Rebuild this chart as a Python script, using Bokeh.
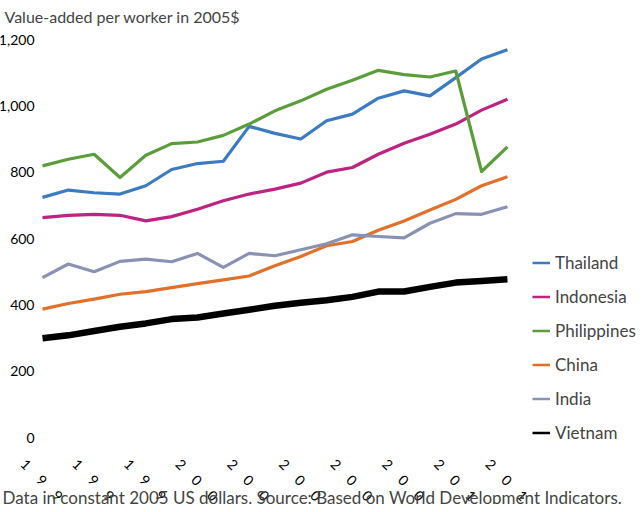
from bokeh.plotting import figure
from bokeh.models import (Range1d, FixedTicker, LinearAxis, NumeralTickFormatter,
                          Legend, LegendItem, Label, ColumnDataSource)
from bokeh.embed import file_html
from bokeh.resources import INLINE

years = list(range(1995, 2014))
thailand = [724, 746, 738, 734, 759, 808, 826, 833, 938, 917, 900, 955, 975, 1023, 1045, 1030, 1085, 1141, 1169]
indonesia = [663, 670, 673, 670, 653, 666, 688, 714, 734, 749, 767, 800, 814, 854, 887, 914, 945, 987, 1020]
philippines = [819, 839, 854, 784, 851, 886, 891, 911, 945, 985, 1015, 1050, 1077, 1107, 1094, 1087, 1105, 802, 876]
china = [387, 404, 417, 432, 440, 452, 464, 475, 487, 518, 546, 578, 591, 625, 653, 686, 718, 759, 786]
india = [482, 523, 500, 531, 538, 530, 555, 513, 555, 548, 566, 584, 611, 606, 602, 646, 675, 673, 696]
vietnam = [299, 308, 321, 334, 344, 357, 362, 374, 385, 397, 406, 414, 424, 440, 440, 454, 467, 472, 477]

series_names = ["Thailand", "Indonesia", "Philippines", "China", "India", "Vietnam"]
series_values = [thailand, indonesia, philippines, china, india, vietnam]
series_colors = ["#3b7bc4", "#bd2380", "#5b9d3b", "#e0702a", "#8a92b4", "#000000"]
series_widths = [3.2, 3.2, 3.2, 3.2, 3.2, 6.5]

y_ticks = [0, 200, 400, 600, 800, 1000, 1200]
x_tick_years = years[::2]
x_tick_labels = {y: "\u2002\u2002".join(str(y)) for y in x_tick_years}

title_text = "Value-added per worker in 2005$"
note_text = "Data in constant 2005 US dollars. Source: Based on World Development Indicators."

FONT = "Lato"
W, H = 636, 504
PX_PER_YEAR = 25.83
x0 = 1995 - 42 / PX_PER_YEAR
x1 = x0 + W / PX_PER_YEAR
py = 398 / 1200.0
y0 = -(H - 437) / py
y1 = 1200 + 39 / py

p = figure(width=W, height=H, x_range=Range1d(x0, x1), y_range=Range1d(y0, y1),
           output_backend="svg", toolbar_location=None,
           x_axis_location=None, y_axis_location=None, min_border=0,
           outline_line_color=None, background_fill_color="white",
           border_fill_color="white")
p.grid.grid_line_color = None
p.grid.visible = False

renderers = []
for name, vals, col, lw in zip(series_names, series_values, series_colors, series_widths):
    src = ColumnDataSource(dict(x=years, y=vals))
    p.line("x", "y", source=src, line_color=col, line_width=lw, line_join="round")
    # single-point proxy (draws nothing in the plot) so legend samples are thin
    proxy = p.line(x=years[:1], y=vals[:1], line_color=col, line_width=2.5)
    renderers.append((name, proxy))

# y axis
yaxis = LinearAxis(ticker=FixedTicker(ticks=y_ticks),
                   formatter=NumeralTickFormatter(format="0,0"),
                   fixed_location=x0 + 36 / PX_PER_YEAR,
                   axis_line_color=None, major_tick_line_color=None,
                   minor_tick_line_color=None, major_tick_out=0, major_tick_in=0,
                   major_label_standoff=2,
                   major_label_text_font=FONT, major_label_text_font_size="14px",
                   major_label_text_color="#000000")
p.add_layout(yaxis, "left")

# x labels axis (shifted copy of the x scale)
shift = 19 / PX_PER_YEAR
p.extra_x_ranges = {"lab": Range1d(x0 + shift, x1 + shift)}
xaxis = LinearAxis(x_range_name="lab", ticker=FixedTicker(ticks=x_tick_years),
                   major_label_overrides=x_tick_labels,
                   major_label_orientation=-0.785,
                   fixed_location=-60,
                   axis_line_color=None, major_tick_line_color=None,
                   minor_tick_line_color=None, major_tick_out=0, major_tick_in=0,
                   major_label_standoff=4,
                   major_label_text_font=FONT, major_label_text_font_size="14px",
                   major_label_text_color="#000000")
p.add_layout(xaxis, "below")

legend = Legend(items=[LegendItem(label=n, renderers=[r]) for n, r in renderers],
                location=(532, 61), padding=0, margin=0, spacing=13,
                glyph_width=18, glyph_height=21, label_height=21, label_standoff=5,
                label_text_font=FONT, label_text_font_size="17px",
                border_line_alpha=0, background_fill_alpha=0)
p.add_layout(legend)

p.add_layout(Label(x=4, y=H - 16, x_units="screen", y_units="screen", text=title_text,
                   text_font=FONT, text_font_size="16px", text_baseline="alphabetic"))
p.add_layout(Label(x=2, y=H - 497, x_units="screen", y_units="screen", text=note_text,
                   text_font=FONT, text_font_size="17px", text_baseline="alphabetic"))

open("out.html", "w").write(file_html(p, INLINE))
